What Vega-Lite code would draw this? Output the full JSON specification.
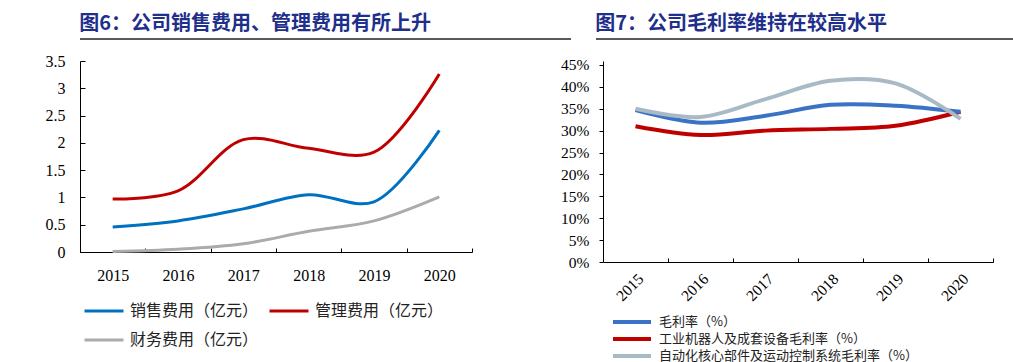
{
  "$schema": "https://vega.github.io/schema/vega-lite/v6.json",
  "background": "white",
  "padding": {"left": 21, "top": 14, "right": 0, "bottom": 0},
  "config": {
    "view": {"stroke": null},
    "font": "Noto Sans CJK SC",
    "axis": {"grid": false, "domainColor": "#000", "tickColor": "#000", "labelColor": "#000", "domainWidth": 1, "tickWidth": 1}
  },
  "datasets": {
    "left": [
      {"year": "2015", "series": "销售费用（亿元）", "value": 0.46},
      {"year": "2016", "series": "销售费用（亿元）", "value": 0.57},
      {"year": "2017", "series": "销售费用（亿元）", "value": 0.79},
      {"year": "2018", "series": "销售费用（亿元）", "value": 1.05},
      {"year": "2019", "series": "销售费用（亿元）", "value": 0.92},
      {"year": "2020", "series": "销售费用（亿元）", "value": 2.23},
      {"year": "2015", "series": "管理费用（亿元）", "value": 0.97},
      {"year": "2016", "series": "管理费用（亿元）", "value": 1.12},
      {"year": "2017", "series": "管理费用（亿元）", "value": 2.06},
      {"year": "2018", "series": "管理费用（亿元）", "value": 1.9},
      {"year": "2019", "series": "管理费用（亿元）", "value": 1.83},
      {"year": "2020", "series": "管理费用（亿元）", "value": 3.26},
      {"year": "2015", "series": "财务费用（亿元）", "value": 0.01},
      {"year": "2016", "series": "财务费用（亿元）", "value": 0.05},
      {"year": "2017", "series": "财务费用（亿元）", "value": 0.15},
      {"year": "2018", "series": "财务费用（亿元）", "value": 0.38},
      {"year": "2019", "series": "财务费用（亿元）", "value": 0.57},
      {"year": "2020", "series": "财务费用（亿元）", "value": 1.01}
    ],
    "right": [
      {"year": "2015", "series": "工业机器人及成套设备毛利率（%）", "value": 0.31},
      {"year": "2016", "series": "工业机器人及成套设备毛利率（%）", "value": 0.29},
      {"year": "2017", "series": "工业机器人及成套设备毛利率（%）", "value": 0.3},
      {"year": "2018", "series": "工业机器人及成套设备毛利率（%）", "value": 0.304},
      {"year": "2019", "series": "工业机器人及成套设备毛利率（%）", "value": 0.311},
      {"year": "2020", "series": "工业机器人及成套设备毛利率（%）", "value": 0.343},
      {"year": "2015", "series": "毛利率（%）", "value": 0.347},
      {"year": "2016", "series": "毛利率（%）", "value": 0.318},
      {"year": "2017", "series": "毛利率（%）", "value": 0.334},
      {"year": "2018", "series": "毛利率（%）", "value": 0.359},
      {"year": "2019", "series": "毛利率（%）", "value": 0.357},
      {"year": "2020", "series": "毛利率（%）", "value": 0.343},
      {"year": "2015", "series": "自动化核心部件及运动控制系统毛利率（%）", "value": 0.35},
      {"year": "2016", "series": "自动化核心部件及运动控制系统毛利率（%）", "value": 0.331},
      {"year": "2017", "series": "自动化核心部件及运动控制系统毛利率（%）", "value": 0.372},
      {"year": "2018", "series": "自动化核心部件及运动控制系统毛利率（%）", "value": 0.414},
      {"year": "2019", "series": "自动化核心部件及运动控制系统毛利率（%）", "value": 0.408},
      {"year": "2020", "series": "自动化核心部件及运动控制系统毛利率（%）", "value": 0.327}
    ]
  },
  "resolve": {"scale": {"color": "independent"}},
  "spacing": 13,
  "vconcat": [
    {
      "spacing": 23,
      "hconcat": [
        {
          "width": 491,
          "height": 1,
          "title": {"text": "图6：公司销售费用、管理费用有所上升", "anchor": "start", "fontSize": 20, "fontWeight": "bold", "color": "#1F2F8C", "offset": 4, "font": "Noto Sans CJK SC"},
          "data": {"values": [{}]},
          "mark": {"type": "rule", "color": "#222", "strokeWidth": 1.5},
          "encoding": {"y": {"datum": 0, "scale": {"domain": [0, 1]}, "axis": null}}
        },
        {
          "width": 478,
          "height": 1,
          "title": {"text": "图7：公司毛利率维持在较高水平", "anchor": "start", "fontSize": 20, "fontWeight": "bold", "color": "#1F2F8C", "offset": 4, "font": "Noto Sans CJK SC"},
          "data": {"values": [{}]},
          "mark": {"type": "rule", "color": "#222", "strokeWidth": 1.5},
          "encoding": {"y": {"datum": 0, "scale": {"domain": [0, 1]}, "axis": null}}
        }
      ]
    },
    {
      "spacing": 63,
      "resolve": {"scale": {"color": "independent"}},
      "hconcat": [
        {
          "width": 392,
          "height": 191,
          "data": {"name": "left"},
          "mark": {"type": "line", "interpolate": "catmull-rom", "strokeWidth": 3},
          "encoding": {
            "x": {"field": "year", "type": "ordinal", "bandPosition": 0.5,
              "scale": {"type": "band", "paddingInner": 0, "paddingOuter": 0},
              "axis": {"title": null, "labelAngle": 0, "tickBand": "extent", "tickSize": -4, "labelPadding": 19, "labelFont": "Liberation Serif", "labelFontSize": 16}},
            "y": {"field": "value", "type": "quantitative",
              "scale": {"domain": [0, 3.5]},
              "axis": {"title": null, "values": [0, 0.5, 1, 1.5, 2, 2.5, 3, 3.5], "format": "~g", "tickSize": -5, "labelPadding": 20, "minExtent": 59, "labelFont": "Liberation Serif", "labelFontSize": 16}},
            "color": {"field": "series", "type": "nominal",
              "scale": {"domain": ["销售费用（亿元）", "管理费用（亿元）", "财务费用（亿元）"], "range": ["#0070C0", "#C00000", "#ABABAB"]},
              "legend": {"orient": "none", "legendX": 3, "legendY": 229, "direction": "horizontal", "columns": 2, "title": null, "symbolType": "stroke", "symbolSize": 1521, "symbolStrokeWidth": 3, "labelFont": "Noto Sans CJK SC", "labelFontSize": 16, "labelColor": "#222", "labelOffset": 5, "columnPadding": 4, "rowPadding": -1, "labelLimit": 400}}
          }
        },
        {
          "width": 390,
          "height": 201,
          "data": {"name": "right"},
          "mark": {"type": "line", "interpolate": "catmull-rom", "strokeWidth": 4},
          "encoding": {
            "x": {"field": "year", "type": "ordinal", "bandPosition": 0.5,
              "scale": {"type": "band", "paddingInner": 0, "paddingOuter": 0},
              "axis": {"title": null, "labelAngle": -45, "tickBand": "extent", "tickSize": -4, "labelPadding": 13, "labelFont": "Liberation Serif", "labelFontSize": 15.5}},
            "y": {"field": "value", "type": "quantitative",
              "scale": {"domain": [0, 0.459], "nice": false},
              "axis": {"title": null, "values": [0, 0.05, 0.1, 0.15, 0.2, 0.25, 0.3, 0.35, 0.4, 0.45], "format": ".0%", "tickSize": 4, "labelPadding": 10, "minExtent": 67, "labelFont": "Liberation Serif", "labelFontSize": 15.5}},
            "color": {"field": "series", "type": "nominal",
              "scale": {"domain": ["毛利率（%）", "工业机器人及成套设备毛利率（%）", "自动化核心部件及运动控制系统毛利率（%）"], "range": ["#3A72C5", "#C00000", "#A8BAC6"]},
              "legend": {"orient": "none", "legendX": 8, "legendY": 253, "direction": "vertical", "columns": 1, "title": null, "symbolType": "stroke", "symbolSize": 1444, "symbolStrokeWidth": 4, "clipHeight": 16, "labelFont": "Noto Sans CJK SC", "labelFontSize": 13, "labelColor": "#222", "labelOffset": 6, "rowPadding": 1, "labelLimit": 400}}
          }
        }
      ]
    }
  ]
}
